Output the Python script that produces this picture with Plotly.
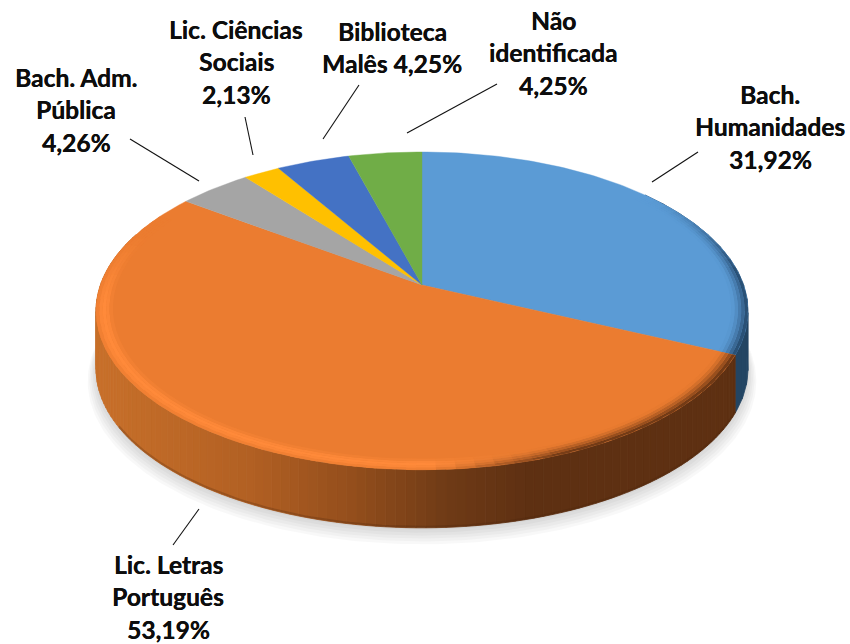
"""3D style pie of course shares, drawn on pixel axes."""

import math

import plotly.graph_objects as go

SHARES = [31.92, 53.19, 4.26, 2.13, 4.25, 4.25]
COLORS = ["#5B9BD5", "#EB7C30", "#A5A5A5", "#FFC000", "#4472C4", "#70AD47"]
LABEL_LINES = [
    ["Bach.", "Humanidades", "{}"],
    ["Lic. Letras", "Português", "{}"],
    ["Bach. Adm.", "Pública", "{}"],
    ["Lic. Ciências", "Sociais", "{}"],
    ["Biblioteca", "Malês {}"],
    ["Não", "identificada", "{}"],
]
LABEL_X = [770, 168, 76, 236, 392, 553]
LABEL_Y = [94, 564, 77, 29, 31, 20]
LEADERS = [
    ((698, 152), (652, 182)),
    ((199, 509), (173, 545)),
    ((130, 139), (199, 181)),
    ((245, 117), (253, 155)),
    ((359, 85), (323, 139)),
    ((497, 84), (407, 133)),
]

CX, CY = 422, 285
A, B, K = 321.6, 154.7, 0.163
DEPTH = 58
LINE_GAP = 32.5
RIM = [0.95, 0.96, 0.97, 0.98, 0.99, 1.0]
SIDE_STOPS = [
    (95, (200, 112, 42)),
    (250, (178, 96, 35)),
    (350, (148, 78, 28)),
    (450, (110, 58, 22)),
    (530, (94, 48, 18)),
    (760, (94, 48, 18)),
]


def proj(r, deg, dy=0):
    a = math.radians(deg)
    u, v = r * math.sin(a), r * math.cos(a)
    w = 1 + K * v
    return CX + A * u / w, CY - B * v / w + dy


def arc(r, a0, a1, dy=0, step=1.0):
    n = max(2, int(abs(a1 - a0) / step) + 1)
    return [proj(r, a0 + (a1 - a0) * i / (n - 1), dy) for i in range(n)]


def mix(c0, c1, t):
    t = max(0.0, min(1.0, t))
    return tuple(c0[i] + (c1[i] - c0[i]) * t for i in range(3))


def css(c):
    return "rgb(%d,%d,%d)" % tuple(round(x) for x in c)


def hex_rgb(h):
    return tuple(int(h[i:i + 2], 16) for i in (1, 3, 5))


def side_color(x):
    for (x0, c0), (x1, c1) in zip(SIDE_STOPS, SIDE_STOPS[1:]):
        if x <= x1:
            return mix(c0, c1, (x - x0) / (x1 - x0))
    return SIDE_STOPS[-1][1]


def clamp(t):
    return max(0.0, min(1.0, t))


fig = go.Figure()


def add_poly(points, color, line=0.8):
    xs = [p[0] for p in points] + [points[0][0]]
    ys = [p[1] for p in points] + [points[0][1]]
    fig.add_trace(go.Scatter(
        x=xs, y=ys, mode="lines", fill="toself", fillcolor=color,
        line=dict(color=color, width=line), hoverinfo="skip",
    ))


def add_rim_cell(a, b, limit, j, color):
    # cells overlap the next angle and the next band out, so no seams show
    add_poly(arc(RIM[j], a, min(b + 1.5, limit)) + arc(RIM[j + 1], min(b + 1.5, limit), a), color, line=0)


# slice angles, clockwise from 12 o'clock
total = sum(SHARES)
edges = [0.0]
for s in SHARES:
    edges.append(edges[-1] + s / total * 360)

# soft shadow under the disc
for i in range(6):
    grow = 1.0 + 0.005 * i
    add_poly(arc(grow, 0, 360, DEPTH + 2 + i * 1.8), "rgba(0,0,0,0.028)", line=0)

# side wall, blue then orange
a = 50.0
while a < edges[1]:
    b = min(a + 5, edges[1])
    add_poly(arc(1, a, b) + arc(1, b, a, DEPTH), "#234563")
    a = b
a = edges[1]
while a < 290:
    b = min(a + 1.5, 290)
    x_mid = proj(1, (a + b) / 2)[0]
    add_poly(arc(1, a, b) + arc(1, b, a, DEPTH), css(side_color(x_mid)))
    a = b

# darker bottom lip on the orange wall
lip = arc(1, edges[1], 240, DEPTH - 1)
fig.add_trace(go.Scatter(
    x=[p[0] for p in lip], y=[p[1] for p in lip], mode="lines",
    line=dict(color="rgba(70,35,10,0.25)", width=2), hoverinfo="skip",
))

# top faces
for i, color in enumerate(COLORS):
    add_poly([(CX, CY)] + arc(1, edges[i], edges[i + 1]), color, line=0.4)

# bevel round the blue and orange edges
orange = hex_rgb(COLORS[1])
blue = hex_rgb(COLORS[0])
glow = (255, 138, 58)
brown = (94, 48, 18)
navy = (34, 68, 102)

for j in range(len(RIM) - 2, -1, -1):
    t = (j + 0.5) / (len(RIM) - 1)
    a = 50.0
    while a < edges[1]:
        b = min(a + 3, edges[1])
        fade = clamp((0.6 - math.cos(math.radians((a + b) / 2))) / 0.5)
        add_rim_cell(a, b, edges[1], j, css(mix(blue, navy, t ** 1.5 * fade)))
        a = b
    a = edges[1]
    while a < edges[2] - 8:
        b = min(a + 3, edges[2] - 8)
        mid = math.radians((a + b) / 2)
        u, v = math.sin(mid), math.cos(mid)
        dark = clamp((u - 0.03) / 0.35)
        fade = clamp((0.35 - v) / 0.45)
        lit = mix(orange, glow, math.sin(math.pi * t) * fade)
        shade = mix(orange, brown, t ** 1.5)
        add_rim_cell(a, b, edges[2] - 8, j, css(mix(lit, shade, dark)))
        a = b

# leader lines
for p0, p1 in LEADERS:
    fig.add_trace(go.Scatter(
        x=[p0[0], p1[0]], y=[p0[1], p1[1]], mode="lines",
        line=dict(color="#111111", width=1.1), hoverinfo="skip",
    ))

# labels, one annotation per line to get the wide line spacing
annotations = []
for share, lines, lx, ly in zip(SHARES, LABEL_LINES, LABEL_X, LABEL_Y):
    pct = f"{share:.2f}%".replace(".", ",")
    for n, text in enumerate(lines):
        annotations.append(dict(
            x=lx, y=ly + n * LINE_GAP, text=text.format(pct), showarrow=False,
            xanchor="center", yanchor="middle",
            font=dict(family="Lato", size=24.6, color="#0d0d0d", weight="bold",
                      shadow="0.3px 0 0 #0d0d0d"),
        ))

fig.update_layout(
    width=850, height=644,
    margin=dict(l=0, r=0, t=0, b=0),
    paper_bgcolor="white", plot_bgcolor="white",
    showlegend=False,
    xaxis=dict(range=[0, 850], visible=False, fixedrange=True),
    yaxis=dict(range=[644, 0], visible=False, fixedrange=True),
    annotations=annotations,
)
fig.write_html(
    "out.html",
    config={"displayModeBar": False},
    post_script="document.body.style.margin = '0';",
)
